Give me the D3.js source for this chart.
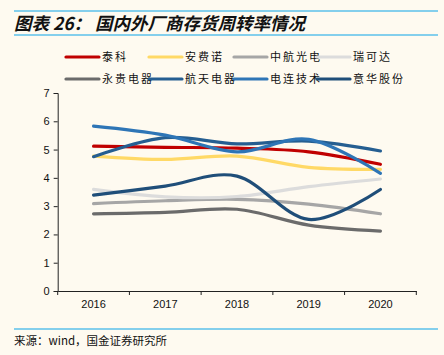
<!DOCTYPE html>
<html><head><meta charset="utf-8">
<script src="https://cdn.jsdelivr.net/npm/d3@7/dist/d3.min.js"></script>
<style>
html,body{margin:0;padding:0;background:#FEFAF0;}
svg{display:block;}
</style></head>
<body>
<script>
const years = ["2016","2017","2018","2019","2020"];
const seriesNames = ["泰科","安费诺","中航光电","瑞可达","永贵电器","航天电器","电连技术","意华股份"];
const seriesColors = ["#C00000","#FFD966","#A6A6A6","#DCDCDC","#6B6B6B","#255E91","#2E75B6","#1F4E79"];
const taike    = [5.12, 5.08, 5.05, 4.92, 4.48];
const anfeinuo = [4.77, 4.65, 4.77, 4.37, 4.30];
const zhonghang= [3.09, 3.19, 3.24, 3.07, 2.73];
const ruikeda  = [3.59, 3.33, 3.34, 3.69, 3.96];
const yonggui  = [2.73, 2.78, 2.89, 2.33, 2.12];
const hangtian = [4.75, 5.42, 5.20, 5.30, 4.95];
const dianlian = [5.83, 5.51, 4.92, 5.36, 4.16];
const yihua    = [3.39, 3.71, 4.06, 2.53, 3.59];
const yTicks = [0,1,2,3,4,5,6,7];
const allSeries = [taike, anfeinuo, zhonghang, ruikeda, yonggui, hangtian, dianlian, yihua];

const W = 444, H = 355;
const svg = d3.select("body").append("svg").attr("width", W).attr("height", H);
svg.append("rect").attr("width", W).attr("height", H).attr("fill", "#FEFAF0");

const cjk = "'Noto Sans CJK SC', sans-serif";
const latin = "'Liberation Sans', Arial, sans-serif";

// header
svg.append("line").attr("x1",14).attr("x2",438).attr("y1",11).attr("y2",11).attr("stroke","#5BC0EB").attr("stroke-width",1.5);
svg.append("line").attr("x1",14).attr("x2",438).attr("y1",35).attr("y2",35).attr("stroke","#5BC0EB").attr("stroke-width",1.5);
svg.append("text").attr("x",14).attr("y",29.5).attr("font-family",cjk).attr("font-size",17.5)
  .attr("font-weight","bold").attr("font-style","italic").attr("fill","#111")
  .text("图表 26：  国内外厂商存货周转率情况");

// footer
svg.append("line").attr("x1",14).attr("x2",438).attr("y1",329).attr("y2",329).attr("stroke","#5BC0EB").attr("stroke-width",1.5);
svg.append("text").attr("x",14).attr("y",345).attr("font-family",cjk).attr("font-size",11.5).attr("fill","#111")
  .text("来源：wind，国金证券研究所");

// scales
const x = d3.scaleBand().domain(years).range([57.7, 416.3]).padding(0);
const y = d3.scaleLinear().domain([0,7]).range([291, 93]);

const gy = svg.append("g").attr("transform","translate(57.7,0)")
  .call(d3.axisLeft(y).tickValues(yTicks).tickSize(4).tickFormat(d3.format("d")));
gy.select(".domain").attr("stroke","#222").attr("stroke-width",1);
gy.selectAll(".tick line").attr("stroke","#222");
gy.selectAll("text").attr("font-family",latin).attr("font-size",11).attr("fill","#111").attr("dx","-1");

const gx = svg.append("g").attr("transform","translate(0,291)")
  .call(d3.axisBottom(x).tickSize(0).tickSizeOuter(0));
gx.select(".domain").attr("stroke","#222").attr("stroke-width",1);
gx.selectAll("text").attr("font-family",latin).attr("font-size",11).attr("fill","#111").attr("dy","1.3em");
// category boundary ticks
const bounds = years.map(d => x(d)).concat([x(years[years.length-1]) + x.bandwidth()]);
gx.selectAll(".bt").data(bounds).enter().append("line")
  .attr("x1",d=>d).attr("x2",d=>d).attr("y1",0).attr("y2",4).attr("stroke","#222");

// lines
const line = d3.line()
  .x((d,i) => x(years[i]) + x.bandwidth()/2)
  .y(d => y(d))
  .curve(d3.curveCardinal.tension(0));
allSeries.forEach((s,k) => {
  svg.append("path").attr("d", line(s)).attr("fill","none")
    .attr("stroke", seriesColors[k]).attr("stroke-width",3.2).attr("stroke-linecap","round");
});

// legend
const colX = [66, 149, 234, 317];
const rowY = [57, 79];
seriesNames.forEach((n,k) => {
  const cx = colX[k%4], cy = rowY[Math.floor(k/4)];
  svg.append("line").attr("x1",cx).attr("x2",cx+33).attr("y1",cy).attr("y2",cy)
    .attr("stroke",seriesColors[k]).attr("stroke-width",3.2).attr("stroke-linecap","round");
  svg.append("text").attr("x",cx+36).attr("y",cy+4).attr("font-family",cjk).attr("font-size",11)
    .attr("fill","#111").attr("letter-spacing","2px").text(n);
});
</script>
</body></html>
